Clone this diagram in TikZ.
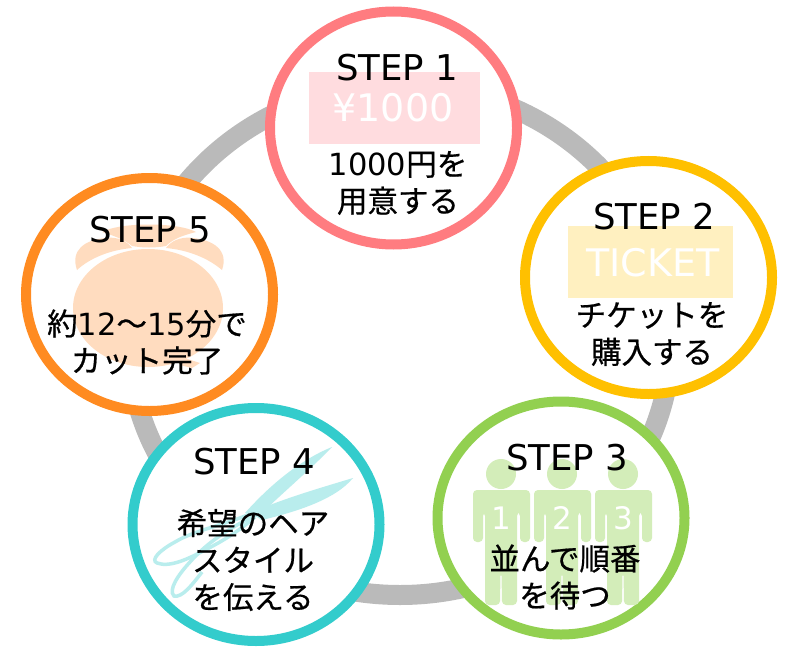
\documentclass[tikz,border=0pt]{standalone}
\usepackage{fontspec}
\setmainfont{DejaVu Sans}
\newfontfamily\jp[FakeBold=0.6]{Noto Sans CJK JP}
\newcommand{\lat}[1]{{\rmfamily #1}}
\usetikzlibrary{shapes.geometric}
\tikzset{
 x=1pt,y=-1pt,
 stepcircle/.style={draw=#1,line width=10pt,fill=white,ellipse,minimum width=247pt,minimum height=233pt,inner sep=0pt},
 steptitle/.style={font=\fontsize{35.5}{38}\selectfont,inner sep=0pt,text=black},
 stepbody/.style={font=\jp\fontsize{30.5}{37}\selectfont,align=center,inner sep=0pt,text=black},
 pricebox/.style={inner sep=0pt,text=white,font=\fontsize{38}{40}\selectfont},
}
\definecolor{ringc}{HTML}{BABABA}
\definecolor{c1}{HTML}{FF7C80}
\definecolor{c2}{HTML}{FFC000}
\definecolor{c3}{HTML}{92D050}
\definecolor{c4}{HTML}{33CCCC}
\definecolor{c5}{HTML}{FF8B21}
\definecolor{box1}{HTML}{FFDCDF}
\definecolor{box2}{HTML}{FFF0C0}
\definecolor{personc}{HTML}{D3EDB9}
\definecolor{scissc}{HTML}{B9EDED}
\definecolor{clockc}{HTML}{FFDCBF}
\newcommand{\personfig}[2]{%
 \begin{scope}[shift={(#1,0)}]
 \fill[personc] (501,474) circle[radius=15];
 \fill[personc,rounded corners=4pt] (473,490) -- (530,490) -- (530,542) -- (520,542) -- (520,512) -- (517,512) -- (517,605) -- (502,605) -- (501.5,572) -- (500.5,572) -- (500,605) -- (485,605) -- (485,512) -- (483,512) -- (483,542) -- (473,542) -- cycle;
 \node[inner sep=0pt,text=white,font=\fontsize{31}{33}\selectfont] (n#2) at (501,518) {#2};
 \end{scope}}
\begin{document}
\begin{tikzpicture}
\useasboundingbox (0,0) rectangle (800,650);
\draw[ringc,line width=20pt] (400,340) ellipse[x radius=271,y radius=255];
% circles
\node[stepcircle=c1] (s1) at (393.5,128) {};
\node[stepcircle=c2] (s2) at (648.5,277.5) {};
\node[stepcircle=c3] (s3) at (561,518) {};
\node[stepcircle=c4] (s4) at (256,524.5) {};
\node[stepcircle=c5] (s5) at (149.5,294.5) {};
% step 1
\node[fill=box1,minimum width=171pt,minimum height=72pt,inner sep=0pt] (b1) at (394.5,108) {};
\node[pricebox] (p1) at (393,108) {¥1000};
\node[steptitle] (t1) at (397,68) {STEP 1};
\node[stepbody] (l1) at (398,183) {\lat{1000}円を\\用意する};
% step 2
\node[fill=box2,minimum width=165pt,minimum height=72pt,inner sep=0pt] (b2) at (650.5,262) {};
\node[pricebox] (p2) at (653,263) {TICKET};
\node[steptitle] (t2) at (654,217) {STEP 2};
\node[stepbody] (l2) at (652,334) {チケットを\\購入する};
% step 3
\personfig{0}{1}
\personfig{61}{2}
\personfig{122}{3}
\node[steptitle] (t3) at (567,458) {STEP 3};
\node[stepbody] (l3) at (565,577) {並んで順番\\を待つ};
% step 4
\fill[scissc] (332,447) .. controls (300,460) and (270,485) .. (245,513) -- (258,517) .. controls (280,495) and (310,470) .. (332,447) -- cycle;
\fill[scissc] (353,478) .. controls (320,488) and (285,498) .. (250,513) -- (262,520) .. controls (295,512) and (335,500) .. (353,478) -- cycle;
\draw[scissc,line width=3.5pt] (255,512) .. controls (225,525) and (195,530) .. (175,542) .. controls (160,550) and (150,560) .. (157,563) .. controls (170,568) and (190,558) .. (205,550) .. controls (225,540) and (240,530) .. (255,517);
\draw[scissc,line width=3.5pt] (258,514) .. controls (225,530) and (205,545) .. (190,562) .. controls (178,575) and (168,590) .. (174,596) .. controls (182,598) and (192,585) .. (202,572);
\node[steptitle] (t4) at (254,462) {STEP 4};
\node[stepbody] (l4) at (253,560) {希望のヘア\\スタイル\\を伝える};
% step 5
\fill[clockc] (148,308) ellipse[x radius=75,y radius=59];
\fill[clockc] (77,270) .. controls (70,250) and (85,240) .. (105,238) .. controls (118,236) and (128,242) .. (132,248) .. controls (110,250) and (90,258) .. (77,270) -- cycle;
\fill[clockc] (222,270) .. controls (229,250) and (213,240) .. (193,238) .. controls (180,236) and (170,242) .. (166,248) .. controls (188,250) and (208,258) .. (222,270) -- cycle;
\fill[clockc] (102,232) .. controls (120,222) and (178,222) .. (196,232) .. controls (180,236) and (172,240) .. (166,246) .. controls (155,248) and (143,248) .. (132,246) .. controls (125,240) and (115,236) .. (102,232) -- cycle;
\fill[clockc] (175,355) -- (200,363) -- (192,368) -- (180,365) -- cycle;
\node[steptitle] (t5) at (150,230) {STEP 5};
\node[stepbody] (l5) at (147,342) {約\lat{12}～\lat{15}分で\\カット完了};
\end{tikzpicture}
\end{document}
